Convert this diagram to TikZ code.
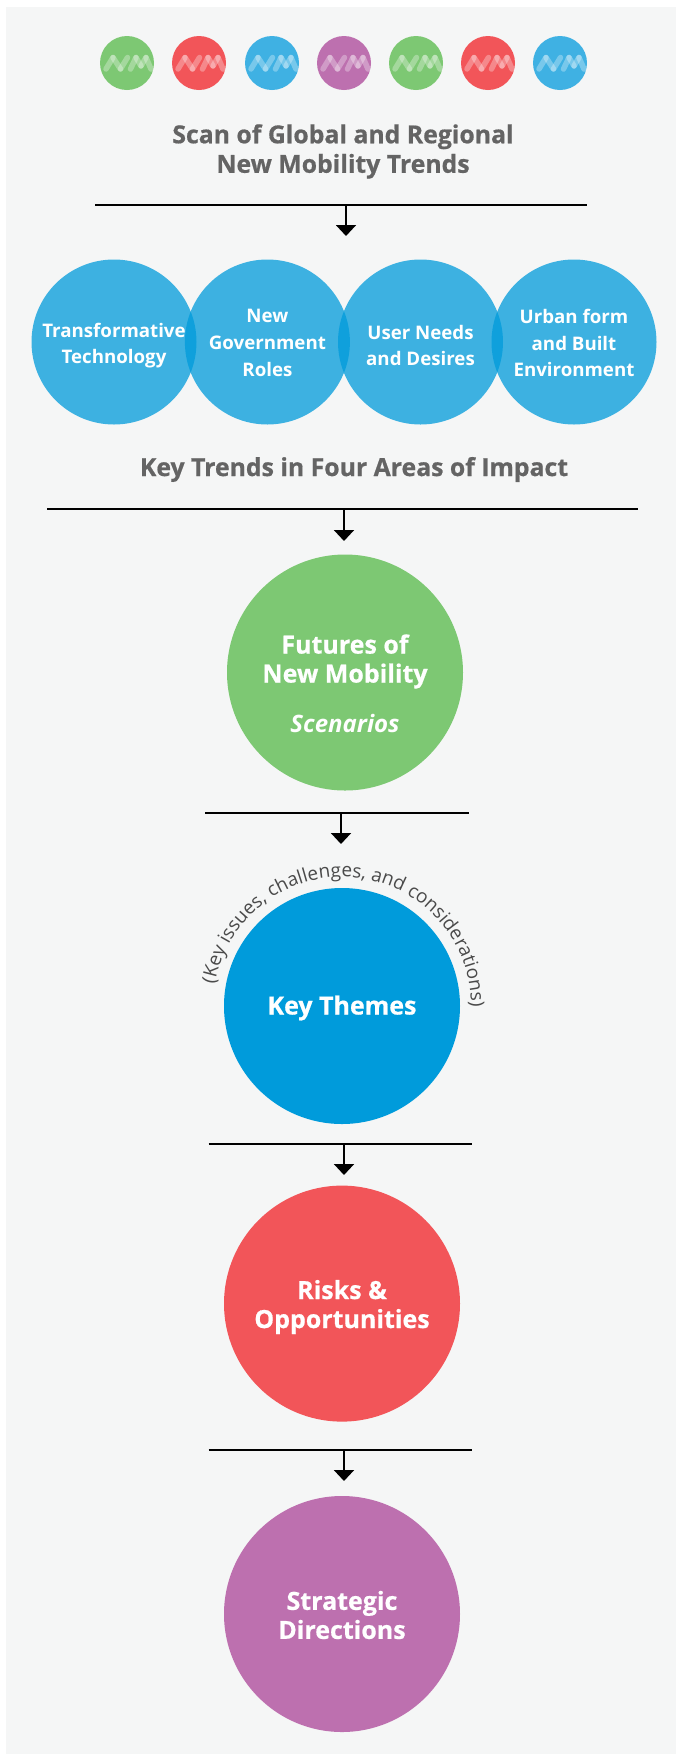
\documentclass[tikz,border=0pt]{standalone}
\usepackage{fontspec}
\setmainfont{Open Sans}
\newfontfamily\xbold{Open Sans}[BoldFeatures={FakeBold=0.6}]
\usetikzlibrary{decorations.text,arrows.meta,calc}
\definecolor{panel}{HTML}{F5F6F6}
\definecolor{nmgreen}{HTML}{7DC873}
\definecolor{nmred}{HTML}{F25559}
\definecolor{nmblue}{HTML}{3FB1E3}
\definecolor{nmpurple}{HTML}{BD70AF}
\definecolor{themeblue}{HTML}{009BDB}
\definecolor{headgrey}{HTML}{646464}
\definecolor{arcgrey}{HTML}{4A4A4A}
\tikzset{
  icon/.style={circle,inner sep=0,minimum size=54pt,fill=#1},
  trend/.style={circle,inner sep=0,minimum size=165pt,fill=themeblue,fill opacity=.75,text opacity=1},
  bigc/.style={circle,inner sep=0,minimum size=236pt,fill=#1},
  trendtxt/.style={text=white,align=center,font=\bfseries\fontsize{18.7}{26.8}\selectfont},
  bigtxt/.style={text=white,align=center,font=\xbold\bfseries\fontsize{25}{29}\selectfont},
  head/.style={text=headgrey,align=center,font=\xbold\bfseries\fontsize{24.8}{29.5}\selectfont},
  rulel/.style={line width=2.3pt,black},
  arr/.style={line width=2pt,black,-{Triangle[width=20pt,length=11pt]}},
  nmstroke/.style={line width=5.5pt,white,opacity=.3,line cap=round}
}
\newcommand{\nmmark}[1]{%
  \foreach \a/\b/\c/\d in {-21/6/-14/-5.5,-14/-5.5/-6.5/6,-6.5/6/0.5/-5.5,3.5/6/9/-5.5,9/-5.5/14/3,14/3/19/-5.5,19/-5.5/24/6}{
    \draw[nmstroke] ($(#1)+(\a,\b)$) -- ($(#1)+(\c,\d)$);
  }}
\begin{document}
\begin{tikzpicture}[x=1pt,y=-1pt]
\useasboundingbox (0,0) rectangle (682,1754);
\fill[white] (0,0) rectangle (682,1754);
\fill[panel] (6,7) rectangle (676,1754);
\node[icon=nmgreen] (i1) at (127,63) {};
\node[icon=nmred] (i2) at (199,63) {};
\node[icon=nmblue] (i3) at (272,63) {};
\node[icon=nmpurple] (i4) at (344,63) {};
\node[icon=nmgreen] (i5) at (416,63) {};
\node[icon=nmred] (i6) at (488,63) {};
\node[icon=nmblue] (i7) at (560,63) {};
\foreach \n in {i1,i2,i3,i4,i5,i6,i7}{\nmmark{\n}}
\node[head] (title) at (343,151.5) {Scan of Global and Regional\\New Mobility Trends};
\coordinate (r1l) at (95,205); \coordinate (r1r) at (587,205); \coordinate (r1m) at (346,205); \coordinate (t1) at (346,236);
\draw[rulel] (r1l) -- (r1r);
\draw[arr] (r1m) -- (t1);
\node[trend] (a) at (114,342) {};
\node[trend] (b) at (267.4,342) {};
\node[trend] (c) at (420.5,342) {};
\node[trend] (d) at (574,342) {};
\node[trendtxt] (at) at (114,345.5) {Transformative\\Technology};
\node[trendtxt] (bt) at (267.4,343) {New\\Government\\Roles};
\node[trendtxt] (ct) at (420.5,345.5) {User Needs\\and Desires};
\node[trendtxt] (dt) at (574,343) {Urban form\\and Built\\Environment};
\node[head] (kt) at (354,469.5) {Key Trends in Four Areas of Impact};
\coordinate (r2l) at (47,509); \coordinate (r2r) at (638,509); \coordinate (r2m) at (344,509); \coordinate (t2) at (344,541);
\draw[rulel] (r2l) -- (r2r);
\draw[arr] (r2m) -- (t2);
\node[bigc=nmgreen] (f) at (345,672.5) {};
\node[bigtxt] (ft) at (345,661.5) {Futures of\\New Mobility};
\node[text=white,font=\bfseries\itshape\fontsize{24}{29}\selectfont] (fs) at (345,723) {Scenarios};
\coordinate (r3l) at (205,813); \coordinate (r3r) at (469,813); \coordinate (r3m) at (341,813); \coordinate (t3) at (341,844);
\draw[rulel] (r3l) -- (r3r);
\draw[arr] (r3m) -- (t3);
\node[bigc=themeblue] (k) at (342,1006) {};
\node[bigtxt] (kl) at (342,1008) {Key Themes};
\path[postaction={decorate,decoration={text along path,text align=center,
  text={|\fontsize{19}{22}\selectfont\color{arcgrey}|(Key issues, challenges, and considerations)}}}]
  (342,1006) ++(-175:129) arc[start angle=-175,end angle=5,radius=129];
\coordinate (r4l) at (208.5,1144); \coordinate (r4r) at (472,1144); \coordinate (r4m) at (344,1144); \coordinate (t4) at (344,1175);
\draw[rulel] (r4l) -- (r4r);
\draw[arr] (r4m) -- (t4);
\node[bigc=nmred] (r) at (342,1303.6) {};
\node[bigtxt] (rl) at (342,1307) {Risks \&\\Opportunities};
\coordinate (r5l) at (208.5,1450); \coordinate (r5r) at (472,1450); \coordinate (r5m) at (344,1450); \coordinate (t5) at (344,1481);
\draw[rulel] (r5l) -- (r5r);
\draw[arr] (r5m) -- (t5);
\node[bigc=nmpurple] (s) at (342,1614) {};
\node[bigtxt] (sl) at (342,1615) {Strategic\\Directions};
\end{tikzpicture}
\end{document}
